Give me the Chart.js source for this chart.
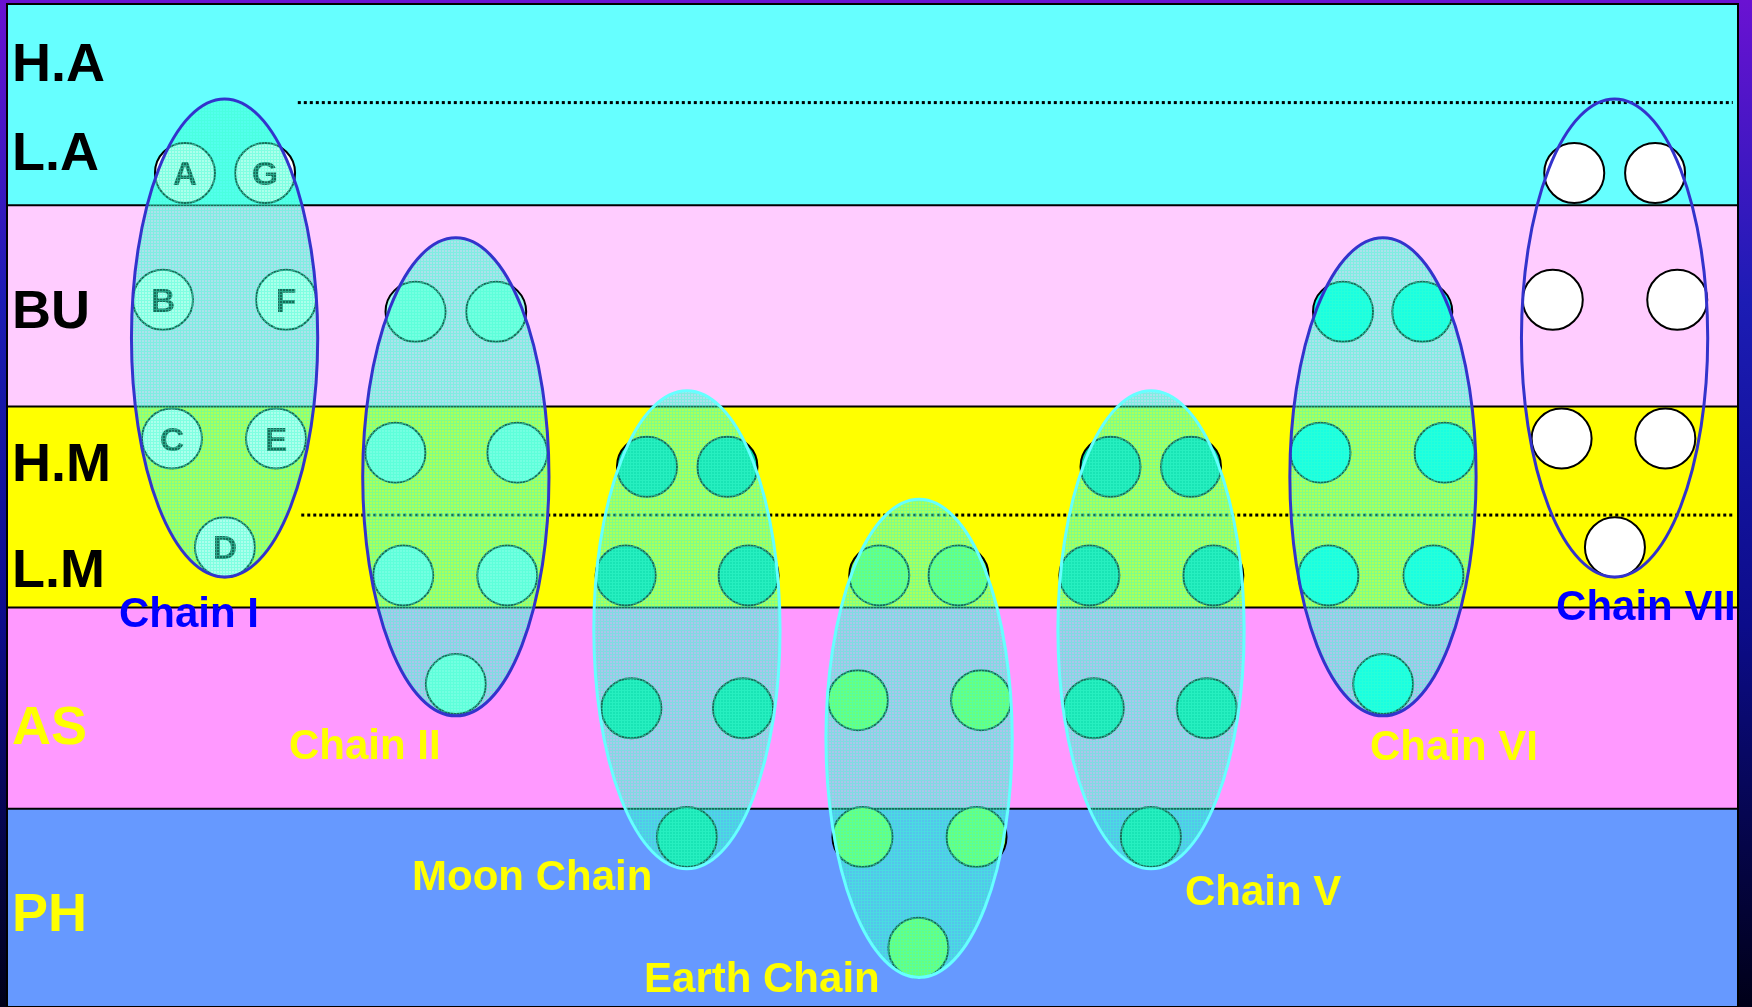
<!DOCTYPE html>
<html>
<head>
<meta charset="utf-8">
<title>Chains and globes</title>
<script src="https://cdn.jsdelivr.net/npm/chart.js@4.4.1/dist/chart.umd.min.js"></script>
<style>
  html, body { margin: 0; padding: 0; }
  body {
    width: 1752px; height: 1007px; overflow: hidden;
    background: linear-gradient(to bottom, #6a12d2 0%, #1c1cb4 30%, #0c0c8a 62%, #000018 100%);
  }
  #wrap { position: relative; width: 1752px; height: 1007px; }
</style>
</head>
<body>
<div id="wrap"><canvas id="chains"></canvas></div>
<script>
const FONT = '"Liberation Sans", Arial, sans-serif';

// planes, bottom to top, one unit each
const bandNames = ['PH', 'AS', 'M', 'BU', 'A'];
const bandEdges = [0, 1, 2, 3, 4, 5];
const bandColors = ['#6699ff', '#ff99ff', '#ffff00', '#ffccff', '#66ffff'];

// labels down the left side
const levelNames = ['H.A', 'L.A', 'BU', 'H.M', 'L.M', 'AS', 'PH'];
const levelY = [4.69, 4.25, 3.465, 2.705, 2.175, 1.395, 0.465];
const levelColors = ['#000', '#000', '#000', '#000', '#000', '#ffff00', '#ffff00'];

// dotted lines splitting A and M planes
const subLineY = [4.51, 2.46];
const subLineX = [[16.8, 99.7], [17.0, 99.7]];

// chains (ellipses)
const chainNames = ['Chain I', 'Chain II', 'Moon Chain', 'Earth Chain', 'Chain V', 'Chain VI', 'Chain VII'];
const chainX = [12.57, 25.93, 39.28, 52.69, 66.09, 79.49, 92.87];
const chainY = [3.34, 2.65, 1.89, 1.35, 1.89, 2.65, 3.34];
const chainHalfW = 5.38;
const chainHalfH = 1.188;

// chain name labels
const labelX = [6.47, 16.29, 23.40, 36.80, 68.05, 78.74, 89.49];
const labelY = [1.904, 1.248, 0.596, 0.09, 0.522, 1.243, 1.938];

// globes of each chain
const globeX = [
    [10.28, 14.91, 9.01, 16.12, 9.53, 15.54, 12.59],
    [23.60, 28.26, 22.44, 29.48, 22.89, 28.90, 25.93],
    [36.97, 41.62, 35.74, 42.84, 36.07, 42.52, 39.28],
    [50.39, 54.97, 49.16, 56.27, 49.42, 56.01, 52.65],
    [63.75, 68.40, 62.53, 69.69, 62.78, 69.31, 66.08],
    [77.18, 81.76, 75.88, 83.05, 76.34, 82.41, 79.50],
    [90.54, 95.21, 89.30, 96.49, 89.81, 95.80, 92.89]
];
const globeY = [
    [4.16, 4.16, 3.53, 3.53, 2.84, 2.84, 2.30],
    [3.47, 3.47, 2.77, 2.77, 2.16, 2.16, 1.62],
    [2.70, 2.70, 2.16, 2.16, 1.50, 1.50, 0.86],
    [2.16, 2.16, 1.54, 1.54, 0.86, 0.86, 0.31],
    [2.70, 2.70, 2.16, 2.16, 1.50, 1.50, 0.86],
    [3.47, 3.47, 2.77, 2.77, 2.16, 2.16, 1.62],
    [4.16, 4.16, 3.53, 3.53, 2.84, 2.84, 2.30]
];
const globeLetters = ['A', 'G', 'B', 'F', 'C', 'E', 'D'];

// styles per chain
const globeColors = ['#ffffff', '#9effec', '#00d0a0', '#8cff3c', '#00d0a0', '#00ffec', '#ffffff'];
const chainVeiled = [true, true, true, true, true, true, false];
const chainEdge = ['#3333cc', '#3333cc', '#66ffff', '#66ffff', '#66ffff', '#3333cc', '#3333cc'];
const labelColors = ['#0000ff', '#ffff00', '#ffff00', '#ffff00', '#ffff00', '#ffff00', '#0000ff'];

function makeVeil(ctx) {
    var tile = document.createElement('canvas');
    tile.width = 3;
    tile.height = 3;
    var g = tile.getContext('2d');
    g.fillStyle = 'rgba(60,255,210,0.42)';
    g.fillRect(0, 0, 3, 3);
    g.fillStyle = 'rgba(60,255,210,0.4)';
    g.fillRect(0, 0, 3, 1);
    g.fillRect(0, 1, 1, 2);
    return ctx.createPattern(tile, 'repeat');
}

const planesPlugin = {
    id: 'planes',
    beforeDraw(chart) {
        const {ctx, chartArea: a, scales: {y}} = chart;
        ctx.save();
        bandColors.forEach((col, i) => {
            var top = Math.max(y.getPixelForValue(bandEdges[i + 1]), a.top),
                bot = Math.min(y.getPixelForValue(bandEdges[i]), a.bottom);
            ctx.fillStyle = col;
            ctx.fillRect(a.left, top, a.right - a.left, bot - top);
        });
        ctx.strokeStyle = '#000';
        ctx.lineWidth = 2;
        for (let i = 1; i < bandEdges.length - 1; i++) {
            var py = y.getPixelForValue(bandEdges[i]);
            ctx.beginPath();
            ctx.moveTo(a.left, py);
            ctx.lineTo(a.right, py);
            ctx.stroke();
        }
        ctx.strokeRect(a.left, a.top, a.right - a.left, a.bottom - a.top);
        ctx.restore();
    }
};

const chainsPlugin = {
    id: 'chains',
    afterDatasetsDraw(chart) {
        const {ctx, scales: {x, y}} = chart;
        ctx.save();
        // letters sit under the veil of chain I
        ctx.font = 'bold 34px ' + FONT;
        ctx.textAlign = 'center';
        ctx.textBaseline = 'alphabetic';
        ctx.fillStyle = '#000';
        globeLetters.forEach((t, j) => {
            ctx.fillText(t, x.getPixelForValue(globeX[0][j]), y.getPixelForValue(globeY[0][j]) + 12);
        });
        var veil = makeVeil(ctx);
        chainNames.forEach((n, i) => {
            var cx = x.getPixelForValue(chainX[i]),
                cy = y.getPixelForValue(chainY[i]),
                rx = x.getPixelForValue(chainX[i] + chainHalfW) - cx,
                ry = cy - y.getPixelForValue(chainY[i] + chainHalfH);
            ctx.beginPath();
            ctx.ellipse(cx, cy, rx, ry, 0, 0, Math.PI * 2);
            if (chainVeiled[i]) {
                ctx.fillStyle = veil;
                ctx.fill();
            }
            ctx.lineWidth = 3;
            ctx.strokeStyle = chainEdge[i];
            ctx.stroke();
        });
        ctx.restore();
    },
    afterDraw(chart) {
        const {ctx, scales: {x, y}} = chart;
        ctx.save();
        ctx.font = 'bold 42px ' + FONT;
        ctx.textAlign = 'left';
        ctx.textBaseline = 'alphabetic';
        chainNames.forEach((n, i) => {
            ctx.fillStyle = labelColors[i];
            ctx.fillText(n, x.getPixelForValue(labelX[i]), y.getPixelForValue(labelY[i]));
        });
        ctx.restore();
    }
};

var datasets = [];
subLineY.forEach((ly, i) => {
    datasets.push({
        type: 'line',
        data: subLineX[i].map(lx => ({x: lx, y: ly})),
        borderColor: '#000',
        borderWidth: 3,
        borderDash: [3, 3],
        pointRadius: 0,
        order: 10
    });
});
chainNames.forEach((n, i) => {
    datasets.push({
        label: n,
        data: globeX[i].map((gx, j) => ({x: gx, y: globeY[i][j]})),
        pointRadius: 30,
        backgroundColor: globeColors[i],
        borderColor: '#000',
        borderWidth: 2,
        order: 5
    });
});

new Chart(document.getElementById('chains'), {
    type: 'scatter',
    data: {datasets: datasets},
    options: {
        responsive: true,
        maintainAspectRatio: false,
        animation: false,
        events: [],
        layout: {autoPadding: false, padding: {left: 7, right: 14, top: 4, bottom: 0}},
        plugins: {legend: {display: false}, tooltip: {enabled: false}},
        scales: {
            x: {type: 'linear', min: 0, max: 100, display: false},
            y: {
                type: 'linear',
                min: 0.015,
                max: 5,
                grid: {display: false},
                border: {display: false},
                afterBuildTicks: s => { s.ticks = levelY.map(v => ({value: v})); },
                afterFit: s => { s.width = 0; s.paddingTop = 0; s.paddingBottom = 0; },
                ticks: {
                    mirror: true,
                    padding: 5,
                    autoSkip: false,
                    font: {family: FONT, size: 54, weight: 'bold'},
                    color: c => levelColors[c.index],
                    callback: (v, i) => levelNames[i]
                }
            }
        }
    },
    plugins: [planesPlugin, chainsPlugin]
});
</script>
</body>
</html>
